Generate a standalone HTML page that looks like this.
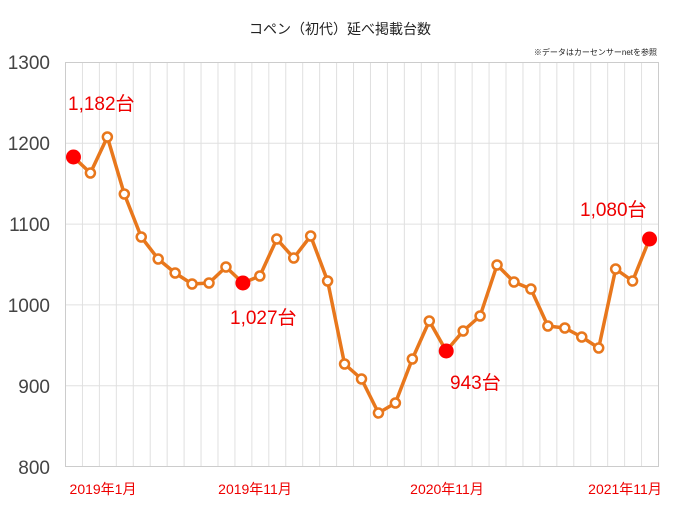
<!DOCTYPE html>
<html><head><meta charset="utf-8"><style>
html,body{margin:0;padding:0;background:#fff;}
svg{display:block;font-family:"Liberation Sans","Noto Sans CJK JP",sans-serif;}
</style></head><body>
<svg width="681" height="511" xmlns="http://www.w3.org/2000/svg">
<rect width="681" height="511" fill="#fff"/>
<text x="340" y="34" text-anchor="middle" font-size="14" fill="#222">コペン（初代）延べ掲載台数</text>
<text x="657" y="55" text-anchor="end" font-size="8" fill="#222">※データはカーセンサーnetを参照</text>
<g id="grid" stroke="#e0e0e0" stroke-width="1"></g>
<rect x="65.5" y="62.5" width="593" height="404" fill="none" stroke="#ccc"/>
<g font-size="19" fill="#444" text-anchor="end">
<text x="50" y="69">1300</text><text x="50" y="150">1200</text><text x="50" y="231">1100</text>
<text x="50" y="312">1000</text><text x="50" y="393">900</text><text x="50" y="474">800</text>
</g>
<g font-size="14" fill="#e00" text-anchor="middle">
<text x="103" y="494">2019年1月</text><text x="255" y="494">2019年11月</text>
<text x="447" y="494">2020年11月</text><text x="625" y="494">2021年11月</text>
</g>
<g id="series"></g>
<g font-size="19" fill="#e00">
<text x="68" y="110">1,182台</text>
<text x="230" y="324">1,027台</text>
<text x="450" y="389">943台</text>
<text x="580" y="216">1,080台</text>
</g>
<script>
var ys=[157,173,137,194,237,259,273,284,283,267,283,276,239,258,236,281,364,379,413,403,359,321,351,331,316,265,282,289,326,328,337,348,269,281,239];
var g=document.getElementById('grid'),s=document.getElementById('series'),ns='http://www.w3.org/2000/svg';
function el(t,a,p){var e=document.createElementNS(ns,t);for(var k in a)e.setAttribute(k,a[k]);p.appendChild(e);return e;}
for(var i=1;i<35;i++){var x=65.5+593*i/35;el('line',{x1:x,x2:x,y1:62,y2:466},g);}
for(var v=900;v<1300;v+=100){var y=466-(v-800)*0.808+0.5;el('line',{x1:65,x2:658,y1:y,y2:y},g);}
var pts=ys.map(function(y,i){return [65+593/35*(i+0.5),y];});
el('polyline',{points:pts.map(function(p){return p.join(',')}).join(' '),fill:'none',stroke:'#e8771c','stroke-width':3.5,'stroke-linejoin':'round'},s);
var big={0:1,10:1,22:1,34:1};
pts.forEach(function(p,i){
 if(big[i])el('circle',{cx:p[0],cy:p[1],r:7.5,fill:'#f00'},s);
 else el('circle',{cx:p[0],cy:p[1],r:4.5,fill:'#fff',stroke:'#e8771c','stroke-width':2.5},s);
});
</script>
</svg>
</body></html>
